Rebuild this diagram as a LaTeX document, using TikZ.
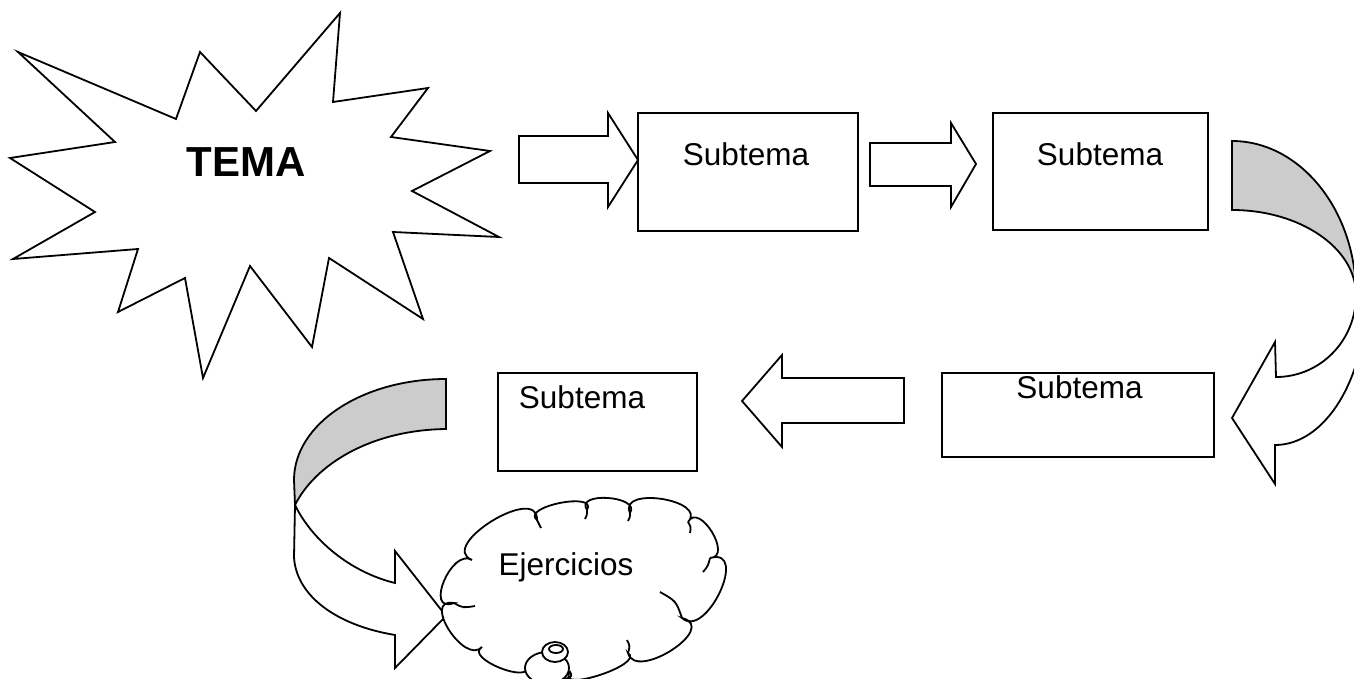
\documentclass[tikz,border=0pt]{standalone}
\usepackage{fontspec}
\setmainfont{Liberation Sans}
\usetikzlibrary{calc}
\definecolor{ribbon}{RGB}{204,204,204}
% one puff of the cloud: a round lump from #1 to #2 whose apex is #3
\newcommand\puffto[3]{.. controls ($0.6133*(#1)+1.3333*(#3)-0.9467*(#2)$) and ($0.6133*(#2)+1.3333*(#3)-0.9467*(#1)$) .. (#2)}
\begin{document}
\begin{tikzpicture}[x=1pt,y=-1pt,line width=1.8pt,line join=miter,
  outline/.style={draw=black,fill=white},
  band/.style={draw=black,fill=ribbon},
  box/.style={draw=black,fill=white,rectangle,inner sep=0pt},
  lbl/.style={anchor=base,inner sep=0pt,font=\fontsize{31.5}{36}\selectfont}]
\useasboundingbox (0,0) rectangle (1354,679);
\clip (0,0) rectangle (1354,679);

% starburst with the main topic
\draw[outline] (18,52) -- (115,142) -- (10,158) -- (95,212) -- (13,259) -- (138,249)
  -- (118,312) -- (185,278) -- (203,378) -- (250,266) -- (312,347) -- (329,258)
  -- (423,319) -- (393,232) -- (499,237) -- (412,191) -- (490,151) -- (391,137)
  -- (428,88) -- (333,102) -- (340,13) -- (256,111) -- (200,52) -- (176,119) -- cycle;
\node[anchor=base,inner sep=0pt,font=\bfseries\fontsize{42}{50}\selectfont] (tema) at (246,177) {TEMA};

% subtopic boxes
\node[box,minimum width=220pt,minimum height=118pt] (s1) at (748,172) {};
\node[box,minimum width=215pt,minimum height=117pt] (s2) at (1100.5,171.5) {};
\node[box,minimum width=272pt,minimum height=84pt] (s3) at (1078,415) {};
\node[box,minimum width=199pt,minimum height=98pt] (s4) at (597.5,422) {};
\node[lbl] (t1) at (746,166) {Subtema};
\node[lbl] (t2) at (1100,166) {Subtema};
\node[lbl] (t3) at (1079.5,398) {Subtema};
\node[lbl] (t4) at (582,408) {Subtema};

% straight block arrows
\draw[outline] (519,136) -- (608,136) -- (608,113) -- (638,160) -- (608,207) -- (608,183) -- (519,183) -- cycle;
\draw[outline] (870,143) -- (951,143) -- (951,123) -- (976,164) -- (951,207) -- (951,186) -- (870,186) -- cycle;
\draw[outline] (904,378) -- (782,378) -- (782,355) -- (742,401) -- (782,447) -- (782,423) -- (904,423) -- cycle;

% curved ribbon arrow on the right
\draw[band] (1232,141) .. controls (1300,141) and (1356,210) .. (1356,295)
  .. controls (1356,248) and (1300,210) .. (1232,210) -- cycle;
\draw[outline] (1356,295) .. controls (1356,341) and (1320,377) .. (1276,377)
  -- (1275,342) -- (1232,418) -- (1275,484) -- (1275,445)
  .. controls (1325,445) and (1366,379) .. (1366,297) -- cycle;

% curved ribbon arrow on the left
\draw[band] (446,379) .. controls (362,379) and (294,424) .. (294,480) -- (295,505)
  .. controls (315,465) and (370,430) .. (446,429) -- cycle;
\draw[outline] (295,505) -- (294,557) .. controls (296,595) and (335,625) .. (395,635)
  -- (395,668) -- (446,616) -- (395,551) -- (395,583)
  .. controls (350,572) and (312,540) .. (295,505) -- cycle;

% thought cloud
\draw[outline] (472,560) \puffto{472,560}{454,603}{444,581}
  \puffto{454,603}{482,647}{449,630}
  \puffto{482,647}{527,665}{500,668}
  \puffto{527,665}{570,672}{548,678}
  \puffto{570,672}{628,653}{600,675}
  \puffto{628,653}{682,618}{672,650}
  \puffto{682,618}{710,558}{720,592}
  \puffto{710,558}{688,522}{712,532}
  \puffto{688,522}{630,513}{662,499}
  \puffto{630,513}{587,510}{608,498}
  \puffto{587,510}{537,520}{560,503}
  \puffto{537,520}{472,560}{492,521} -- cycle;
\draw (454,603) .. controls (463,608) .. (475,606);
\draw (628,653) .. controls (630,646) .. (627,640);
\draw (682,618) .. controls (676,601) .. (660,592);
\draw (710,558) .. controls (708,566) .. (703,572);
\draw (688,522) .. controls (691,527) .. (690,533);
\draw (630,513) .. controls (630,517) .. (628,521);
\draw (587,510) .. controls (587,515) .. (585,519);
\draw (537,520) .. controls (539,524) .. (541,528);
\draw[outline] (547,668) ellipse [x radius=22,y radius=16];
\draw[outline] (555,652) ellipse [x radius=13,y radius=10];
\draw[outline] (556,649) ellipse [x radius=7,y radius=4];
\node[lbl] (ej) at (566,575) {Ejercicios};
\end{tikzpicture}
\end{document}
